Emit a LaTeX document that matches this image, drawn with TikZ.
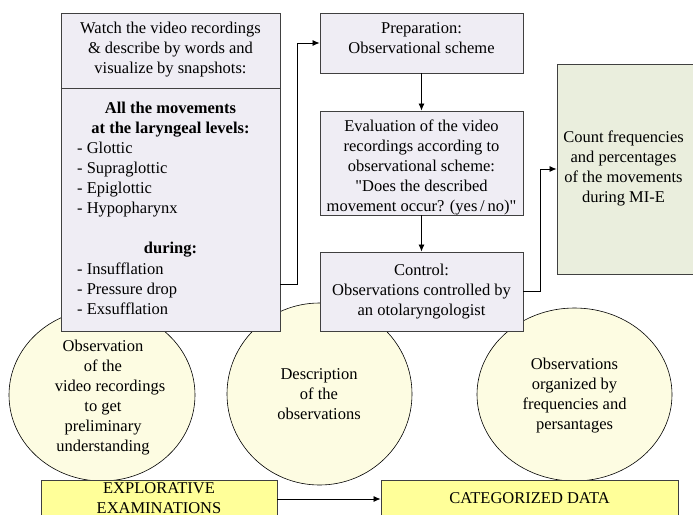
\documentclass[tikz,border=0pt]{standalone}
\usepackage{fontspec}
\setmainfont{Liberation Serif}[Ligatures=TeXOff]
\usetikzlibrary{arrows.meta,shapes.geometric}
\definecolor{boxfill}{HTML}{EFEDF4}
\definecolor{ovalfill}{HTML}{FDFCE2}
\definecolor{yelfill}{HTML}{FFFF99}
\definecolor{greenfill}{HTML}{EAEEDD}
\definecolor{edge}{HTML}{404040}
\tikzset{
  box/.style={draw=edge, line width=0.9pt, inner sep=0pt, rectangle},
  oval/.style={draw=black, line width=0.6pt, fill=ovalfill, ellipse, inner sep=0pt},
  txt/.style={inner sep=0pt, align=center, font=\fontsize{16.5}{20}\selectfont},
  arr/.style={draw=black, line width=0.8pt, -{Latex[length=7pt,width=6pt]}},
}
\begin{document}
\begin{tikzpicture}[x=1pt,y=-1pt]
\useasboundingbox (0,0) rectangle (693,514);
\clip (0,0) rectangle (693,514);

% process ovals (drawn first, boxes lie over them)
\node[oval, minimum width=186, minimum height=172] (obs) at (102,395) {};
\node[oval, minimum width=185, minimum height=182] (desc) at (319.5,394) {};
\node[oval, minimum width=195, minimum height=173] (org) at (574.5,394.5) {};

\node[txt] (obstxt) at (103,397.5) {Observation\\of the\\\hspace*{14pt}video recordings\\to get\\preliminary\\understanding};
\node[txt] (desctxt) at (319,394) {Description\\of the\\observations};
\node[txt] (orgtxt) at (574.5,396) {Observations\\organized by\\frequencies and\\persantages};

% left column box with header part
\node[box, fill=boxfill, minimum width=219, minimum height=318] (watch) at (170.5,172) {};
\draw[draw=edge, line width=0.9pt] (watch.west |- 0,88) -- (watch.east |- 0,88);
\node[txt] (hdr) at (170.5,50) {Watch the video recordings\\\& describe by words and\\visualize by snapshots:};
\node[txt, font=\fontsize{16.5}{20}\selectfont\bfseries] (levhd) at (170.5,120) {All the movements\\at the laryngeal levels:};
\node[txt, align=left, anchor=west] (levels) at (77,180) {- Glottic\\- Supraglottic\\- Epiglottic\\- Hypopharynx};
\node[txt, font=\fontsize{16.5}{20}\selectfont\bfseries] (durhd) at (170.5,250) {during:};
\node[txt, align=left, anchor=west] (phases) at (77,289) {- Insufflation\\- Pressure drop\\- Exsufflation};

% middle column
\node[box, fill=boxfill, minimum width=203, minimum height=60] (prep) at (421.5,43) {};
\node[txt] (preptxt) at (421.5,38.5) {Preparation:\\Observational scheme};
\node[box, fill=boxfill, minimum width=203, minimum height=104] (eval) at (421.5,163) {};
\node[txt] (evaltxt) at (421.5,167) {Evaluation of the video\\recordings according to\\observational scheme:\\"Does the described\\movement occur? (yes\,/\,no)"};
\node[box, fill=boxfill, minimum width=203, minimum height=79] (ctrl) at (421.5,291.5) {};
\node[txt] (ctrltxt) at (421.5,291.5) {Control:\\Observations controlled by\\an otolaryngologist};

% right column
\node[box, fill=greenfill, minimum width=153, minimum height=210] (count) at (633.5,169) {};
\node[txt] (counttxt) at (623.5,168) {Count frequencies\\and percentages\\of the movements\\during MI-E};

% bottom bands
\node[box, fill=yelfill, minimum width=236, minimum height=38] (explo) at (159,499) {};
\node[txt] (explotxt) at (159,498.5) {EXPLORATIVE\\EXAMINATIONS};
\node[box, fill=yelfill, minimum width=297, minimum height=38] (categ) at (529.5,499) {};
\node[txt] (categtxt) at (529.5,498) {CATEGORIZED DATA};

% connectors
\draw[arr] ([yshift=47pt]watch.south east) -- ++(17,0) |- (prep.west);
\draw[arr] (prep.south) -- (eval.north);
\draw[arr] (eval.south) -- (ctrl.north);
\draw[arr] (ctrl.east) -- ++(17,0) |- (count.west);
\draw[arr] (explo.east) -- (categ.west);
\end{tikzpicture}
\end{document}
